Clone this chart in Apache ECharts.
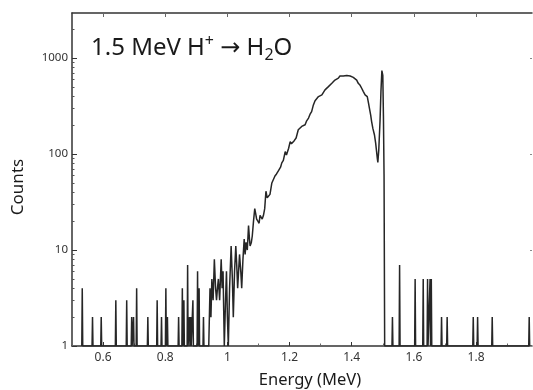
<!DOCTYPE html>
<html>
<head>
<meta charset="utf-8">
<script src="https://cdn.jsdelivr.net/npm/echarts@6/dist/echarts.min.js"></script>
<style>
  html, body { margin: 0; padding: 0; background: #fff; }
  #spectrum { width: 533px; height: 390px; }
</style>
</head>
<body>
<div id="spectrum"></div>
<script>
// sparse counts below the edge (energy MeV, counts)
var lowSpikeE = [0.533, 0.566, 0.594, 0.641, 0.676, 0.692, 0.698, 0.708, 0.744, 0.774, 0.788, 0.802, 0.807, 0.843, 0.855, 0.860, 0.872, 0.878, 0.882, 0.889, 0.904, 0.909, 0.923];
var lowSpikeC = [4, 2, 2, 3, 3, 2, 2, 4, 2, 3, 2, 4, 2, 2, 4, 3, 7, 2, 2, 3, 6, 4, 2];

// main continuous spectrum
var mainE = [0.940, 0.944, 0.947, 0.950, 0.954, 0.958, 0.962, 0.965, 0.968, 0.971, 0.975, 0.980, 0.983, 0.986, 0.990, 0.994, 0.997, 1.000, 1.003, 1.007,
  1.012, 1.016, 1.019, 1.023, 1.027, 1.030, 1.033, 1.036, 1.039, 1.043, 1.046, 1.050, 1.054, 1.057, 1.060, 1.064, 1.068, 1.071, 1.073, 1.077,
  1.080, 1.084, 1.088, 1.091, 1.094, 1.098, 1.102, 1.105, 1.108, 1.112, 1.116, 1.120, 1.124, 1.128, 1.132, 1.137, 1.143, 1.148, 1.153, 1.158,
  1.163, 1.167, 1.171, 1.175, 1.180, 1.186, 1.190, 1.193, 1.197, 1.202, 1.206, 1.210, 1.215, 1.221, 1.224, 1.228, 1.233, 1.239, 1.245, 1.250,
  1.255, 1.261, 1.266, 1.271, 1.276, 1.282, 1.287, 1.293, 1.298, 1.304, 1.309, 1.314, 1.320, 1.325, 1.330, 1.336, 1.341, 1.346, 1.352, 1.357,
  1.362, 1.368, 1.373, 1.378, 1.384, 1.389, 1.395, 1.400, 1.405, 1.411, 1.416, 1.421, 1.427, 1.432, 1.437, 1.443, 1.447, 1.450, 1.454, 1.457,
  1.461, 1.464, 1.468, 1.473, 1.477, 1.480, 1.482, 1.484, 1.487, 1.491, 1.494, 1.497, 1.500, 1.502, 1.504, 1.506];
var mainC = [1, 4, 2, 5, 3, 8, 4, 3, 4, 5, 3, 8, 4, 6, 1, 3, 6, 2, 1, 4,
  11, 5, 2, 6, 11, 7, 4, 6, 9, 6, 4, 8, 13, 9, 12, 10, 18, 13, 11, 12,
  14, 20, 27, 24, 21, 20, 19, 23, 24, 21, 23, 27, 41, 35, 34, 38, 50, 52, 59, 62,
  66, 69, 73, 81, 86, 106, 98, 95, 115, 135, 128, 125, 138, 147, 160, 179, 185, 194, 200, 202,
  222, 237, 260, 277, 320, 360, 375, 397, 400, 414, 440, 466, 480, 504, 520, 546, 570, 590, 600, 618,
  650, 667, 650, 644, 660, 644, 650, 644, 630, 618, 590, 546, 520, 485, 450, 414, 420, 397, 340, 300,
  255, 218, 185, 159, 130, 106, 92, 82, 110, 218, 450, 740, 660, 250, 61, 1];

// sparse counts above the edge
var highSpikeE = [1.531, 1.554, 1.604, 1.630, 1.644, 1.652, 1.656, 1.689, 1.707, 1.791, 1.805, 1.852, 1.971];
var highSpikeC = [2, 7, 5, 5, 5, 5, 5, 2, 2, 2, 2, 2, 2];

var xMajor = [0.6, 0.8, 1.0, 1.2, 1.4, 1.6, 1.8];
var xMinor = [0.5, 0.7, 0.9, 1.1, 1.3, 1.5, 1.7, 1.9];
var yMajor = [1, 10, 100, 1000];
var yMinor = [2, 3, 4, 5, 6, 7, 8, 9, 20, 30, 40, 50, 60, 70, 80, 90, 200, 300, 400, 500, 600, 700, 800, 900, 2000];

var points = [];
function addSpikes(es, cs) {
  for (var i = 0; i < es.length; i++) {
    points.push([es[i] - 0.0015, 1]);
    points.push([es[i], cs[i]]);
    points.push([es[i] + 0.0015, 1]);
  }
}
addSpikes(lowSpikeE, lowSpikeC);
for (var i = 0; i < mainE.length; i++) {
  points.push([mainE[i], mainC[i]]);
}
addSpikes(highSpikeE, highSpikeC);

var fontFam = '"Noto Sans", "DejaVu Sans", sans-serif';
var axisCol = '#333';

var myChart = echarts.init(document.getElementById('spectrum'), null, { renderer: 'canvas' });

var option = {
  animation: false,
  backgroundColor: '#fff',
  grid: { left: 72, right: 1, top: 13, bottom: 44 },
  xAxis: [
    {
      type: 'value', min: 0.5, max: 1.98, position: 'bottom',
      axisLine: { show: true, lineStyle: { color: axisCol, width: 1.5 } },
      axisTick: { show: true, inside: true, length: 4, customValues: xMajor, lineStyle: { color: axisCol } },
      axisLabel: {
        customValues: xMajor, margin: 6, color: '#333', fontSize: 12, fontFamily: fontFam,
        formatter: function (v) { return String(+v.toFixed(1)); }
      },
      splitLine: { show: false }
    },
    {
      type: 'value', min: 0.5, max: 1.98, position: 'bottom',
      axisLine: { show: false },
      axisTick: { show: true, inside: true, length: 2.5, customValues: xMinor, lineStyle: { color: '#666' } },
      axisLabel: { show: false },
      splitLine: { show: false }
    },
    {
      type: 'value', min: 0.5, max: 1.98, position: 'top',
      axisLine: { show: true, lineStyle: { color: axisCol, width: 1.5 } },
      axisTick: { show: true, inside: true, length: 4, customValues: xMajor, lineStyle: { color: '#666' } },
      axisLabel: { show: false },
      splitLine: { show: false }
    }
  ],
  yAxis: [
    {
      type: 'log', logBase: 10, min: 1, max: 2950, position: 'left',
      axisLine: { show: true, lineStyle: { color: axisCol, width: 1.5 } },
      axisTick: { show: true, inside: true, length: 5, customValues: yMajor, lineStyle: { color: axisCol } },
      axisLabel: {
        customValues: yMajor, margin: 4, color: '#333', fontSize: 11.5, fontFamily: fontFam,
        formatter: function (v) { return String(Math.round(v)); }
      },
      splitLine: { show: false }
    },
    {
      type: 'log', logBase: 10, min: 1, max: 2950, position: 'left',
      axisLine: { show: false },
      axisTick: { show: true, inside: true, length: 2.5, customValues: yMinor, lineStyle: { color: '#555' } },
      axisLabel: { show: false },
      splitLine: { show: false }
    },
    {
      type: 'log', logBase: 10, min: 1, max: 2950, position: 'right',
      axisLine: { show: false },
      axisTick: { show: true, inside: true, length: 2, customValues: yMajor, lineStyle: { color: '#888' } },
      axisLabel: { show: false },
      splitLine: { show: false }
    }
  ],
  graphic: [
    {
      type: 'text', left: 91, top: 33,
      style: {
        text: '{m|1.5 MeV H}{sup|+}{m| \u2192 H}{sub|2}{m|O}',
        fill: '#1a1a1a',
        rich: {
          m: { fontSize: 24, fontFamily: fontFam, lineHeight: 30, fill: '#1a1a1a' },
          sup: { fontSize: 16, fontFamily: fontFam, lineHeight: 15, verticalAlign: 'top', fill: '#1a1a1a' },
          sub: { fontSize: 16, fontFamily: fontFam, lineHeight: 15, verticalAlign: 'bottom', fill: '#1a1a1a' }
        }
      }
    },
    {
      type: 'text', x: 310, y: 380,
      style: { text: 'Energy (MeV)', fontSize: 16.5, fontFamily: fontFam, fill: '#1a1a1a', align: 'center', verticalAlign: 'middle' }
    },
    {
      type: 'text', x: 18, y: 187, rotation: Math.PI / 2,
      style: { text: 'Counts', fontSize: 17, fontFamily: fontFam, fill: '#1a1a1a', align: 'center', verticalAlign: 'middle' }
    }
  ],
  series: [
    {
      name: 'counts',
      type: 'line',
      xAxisIndex: 0,
      yAxisIndex: 0,
      showSymbol: false,
      clip: true,
      lineStyle: { color: '#262626', width: 1.5 },
      data: points
    }
  ]
};
myChart.setOption(option);
</script>
</body>
</html>
